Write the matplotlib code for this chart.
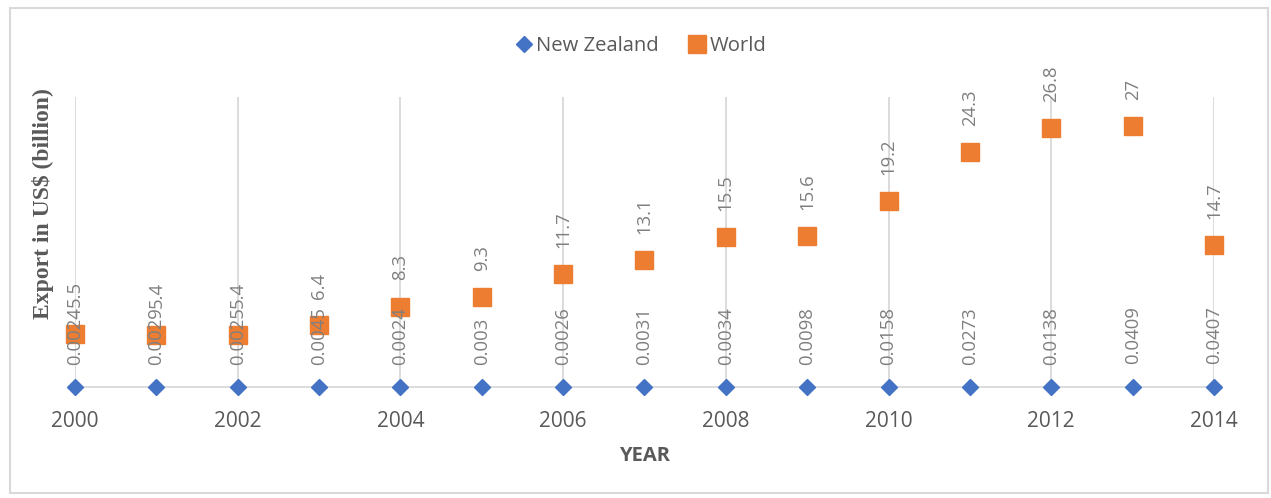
import matplotlib.pyplot as plt
from matplotlib.patches import Rectangle

years = list(range(2000, 2015))
nz_exports = [0.0024, 0.0029, 0.0025, 0.0045, 0.0024, 0.003, 0.0026, 0.0031,
              0.0034, 0.0098, 0.0158, 0.0273, 0.0138, 0.0409, 0.0407]
world_exports = [5.5, 5.4, 5.4, 6.4, 8.3, 9.3, 11.7, 13.1,
                 15.5, 15.6, 19.2, 24.3, 26.8, 27, 14.7]

BLUE = "#4472C4"
ORANGE = "#ED7D31"
TEXT = "#595959"
LABEL = "#7F7F7F"
GRID = "#D9D9D9"

plt.rcParams["font.family"] = ["Open Sans", "DejaVu Sans"]

W, H = 1271, 498
fig = plt.figure(figsize=(W / 100, H / 100), dpi=100)
ax = fig.add_axes([75 / W, (H - 387) / H, (1214 - 75) / W, (387 - 97) / H])

ax.plot(years, nz_exports, linestyle="none", marker="D", markersize=8.6,
        color=BLUE, label="New Zealand", clip_on=False, zorder=3)
ax.plot(years, world_exports, linestyle="none", marker="s", markersize=12.5,
        color=ORANGE, label="World", clip_on=False, zorder=3)

for x, v in zip(years, nz_exports):
    ax.annotate(f"{v:g}", (x, v), xytext=(0, 16), textcoords="offset points",
                rotation=90, ha="center", va="bottom", fontsize=13.3,
                color=LABEL, zorder=4)
for x, v in zip(years, world_exports):
    ax.annotate(f"{v:g}", (x, v), xytext=(0, 19), textcoords="offset points",
                rotation=90, ha="center", va="bottom", fontsize=13.3,
                color=LABEL, zorder=4)

ax.set_xlim(2000, 2014)
ax.set_ylim(0, 30)
ax.set_xticks(range(2000, 2015, 2))
ax.set_yticks([])
ax.tick_params(axis="x", length=0, pad=17, labelsize=15, labelcolor=TEXT)
ax.grid(axis="x", color=GRID, linewidth=1.3)
ax.set_axisbelow(True)
for side in ("top", "right", "left"):
    ax.spines[side].set_visible(False)
ax.spines["bottom"].set_color(GRID)
ax.spines["bottom"].set_linewidth(1.3)

ax.set_xlabel("YEAR", fontsize=14.5, fontweight="bold", color=TEXT, labelpad=10)
fig.text(43 / W, 1 - 204 / H, "Export in US$ (billion)", rotation=90,
         ha="center", va="center", fontsize=17, fontweight="bold",
         family="Liberation Serif", color=TEXT)

fig.legend(loc="center", bbox_to_anchor=(640 / W, 1 - 46 / H), ncol=2,
           frameon=False, fontsize=14.6, labelcolor=TEXT, handletextpad=0.1,
           columnspacing=1.4, handlelength=1.0, markerscale=1.0)

fig.patches.append(Rectangle((10 / W, 5 / H), 1258 / W, 485 / H,
                             transform=fig.transFigure, fill=False,
                             edgecolor=GRID, linewidth=1.5))

fig.savefig("out.png", dpi=100)
